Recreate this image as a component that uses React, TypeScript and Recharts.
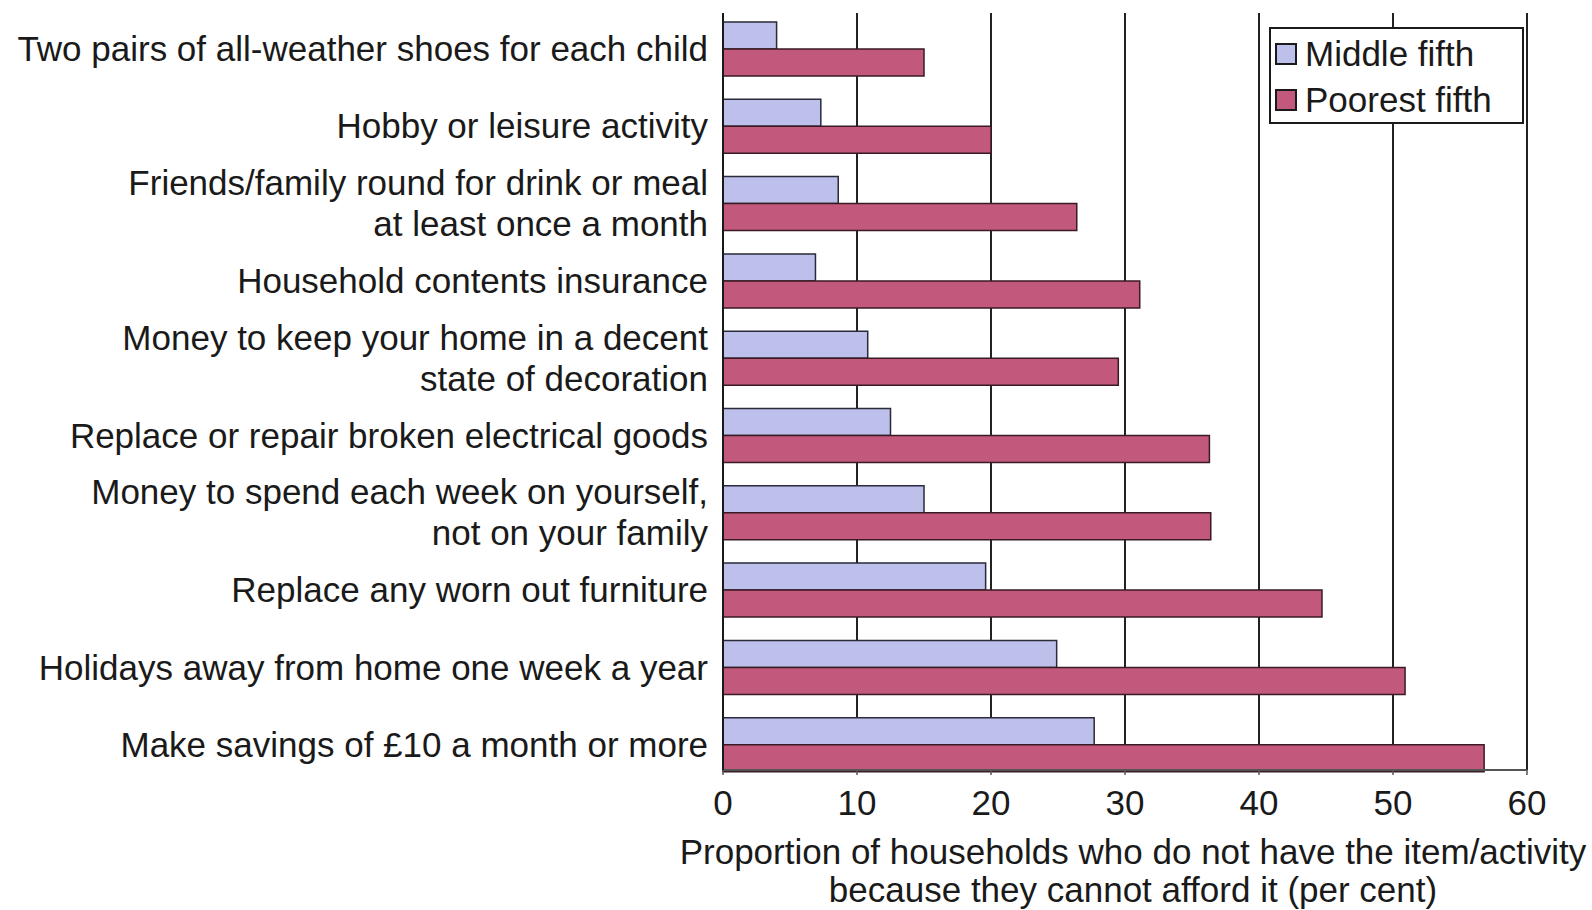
import { BarChart, Bar, XAxis, YAxis, CartesianGrid, Legend } from 'recharts';

const CATEGORIES = [
  'Two pairs of all-weather shoes for each child',
  'Hobby or leisure activity',
  'Friends/family round for drink or meal\nat least once a month',
  'Household contents insurance',
  'Money to keep your home in a decent\nstate of decoration',
  'Replace or repair broken electrical goods',
  'Money to spend each week on yourself,\nnot on your family',
  'Replace any worn out furniture',
  'Holidays away from home one week a year',
  'Make savings of £10 a month or more',
];

const MIDDLE_FIFTH = [4.0, 7.3, 8.6, 6.9, 10.8, 12.5, 15.0, 19.6, 24.9, 27.7];
const POOREST_FIFTH = [15.0, 20.0, 26.4, 31.1, 29.5, 36.3, 36.4, 44.7, 50.9, 56.8];

const X_TICKS = [0, 10, 20, 30, 40, 50, 60];
const X_TITLE = [
  'Proportion of households who do not have the item/activity',
  'because they cannot afford it (per cent)',
];

const FONT = '"Liberation Sans", Arial, Helvetica, sans-serif';
const INK = '#1a1a1a';
const MIDDLE_COLOR = '#bcc0ea';
const POOREST_COLOR = '#c2587c';

const data = CATEGORIES.map((name, i) => ({
  name,
  middle: MIDDLE_FIFTH[i],
  poorest: POOREST_FIFTH[i],
}));

function CategoryTick({ x, y, payload }: any) {
  const lines = String(payload.value).split('\n');
  const lh = 41;
  const top = y - ((lines.length - 1) * lh) / 2;
  return (
    <g>
      {lines.map((line, i) => (
        <text
          key={i}
          x={x}
          y={top + i * lh}
          textAnchor="end"
          dominantBaseline="central"
          fontFamily={FONT}
          fontSize={35}
          fill={INK}
        >
          {line}
        </text>
      ))}
    </g>
  );
}

// two-line axis title, nudged a bit right like the original
function AxisTitle({ viewBox }: any) {
  const cx = viewBox.x + viewBox.width / 2 + 8;
  return (
    <g>
      {X_TITLE.map((line, i) => (
        <text
          key={i}
          x={cx}
          y={viewBox.y + 81 + i * 38}
          textAnchor="middle"
          dominantBaseline="central"
          fontFamily={FONT}
          fontSize={35}
          fill={INK}
        >
          {line}
        </text>
      ))}
    </g>
  );
}

function LegendBox({ payload }: any) {
  return (
    <div
      style={{
        border: `2px solid ${INK}`,
        background: '#fff',
        width: 247,
        height: 93,
        boxSizing: 'content-box',
        padding: '0 0 0 4px',
        fontFamily: FONT,
        fontSize: 35,
        color: INK,
        textAlign: 'left',
      }}
    >
      {(payload || []).map((p: any) => (
        <div key={p.value} style={{ display: 'flex', alignItems: 'center', height: 43, marginTop: 3 }}>
          <span
            style={{
              width: 18,
              height: 18,
              background: p.color,
              border: `2px solid ${INK}`,
              marginRight: 8,
              flexShrink: 0,
            }}
          />
          <span style={{ lineHeight: '43px' }}>{p.value}</span>
        </div>
      ))}
    </div>
  );
}

export default function App() {
  return (
    <div style={{ position: 'absolute', left: 0, top: 0, width: 1592, height: 910, background: '#fff' }}>
      <BarChart
        width={1592}
        height={910}
        data={data}
        layout="vertical"
        margin={{ top: 13, right: 65, bottom: 0, left: 0 }}
        barGap={0}
      >
        <CartesianGrid horizontal={false} stroke="#222" strokeWidth={2} />
        <XAxis
          type="number"
          domain={[0, 60]}
          ticks={X_TICKS}
          interval={0}
          height={140}
          axisLine={{ stroke: '#555', strokeWidth: 2 }}
          tickLine={{ stroke: '#555', strokeWidth: 1.5 }}
          tickSize={5}
          tickMargin={5}
          tick={{ fontFamily: FONT, fontSize: 35, fill: INK, dy: 10 }}
          label={<AxisTitle />}
        />
        <YAxis
          type="category"
          dataKey="name"
          width={723}
          interval={0}
          padding={{ top: -3, bottom: -13 }}
          axisLine={{ stroke: INK, strokeWidth: 2 }}
          tickLine={false}
          tickSize={0}
          tickMargin={15}
          tick={<CategoryTick />}
        />
        <Legend
          layout="horizontal"
          verticalAlign="middle"
          align="center"
          content={<LegendBox />}
          wrapperStyle={{ position: 'absolute', left: 1269, top: 27, width: 'auto', height: 'auto' }}
        />
        <Bar
          dataKey="middle"
          name="Middle fifth"
          fill={MIDDLE_COLOR}
          stroke="#2a2a3a"
          strokeWidth={1.5}
          barSize={27}
          isAnimationActive={false}
        />
        <Bar
          dataKey="poorest"
          name="Poorest fifth"
          fill={POOREST_COLOR}
          stroke="#3a1a25"
          strokeWidth={1.5}
          barSize={27}
          isAnimationActive={false}
        />
      </BarChart>
    </div>
  );
}
